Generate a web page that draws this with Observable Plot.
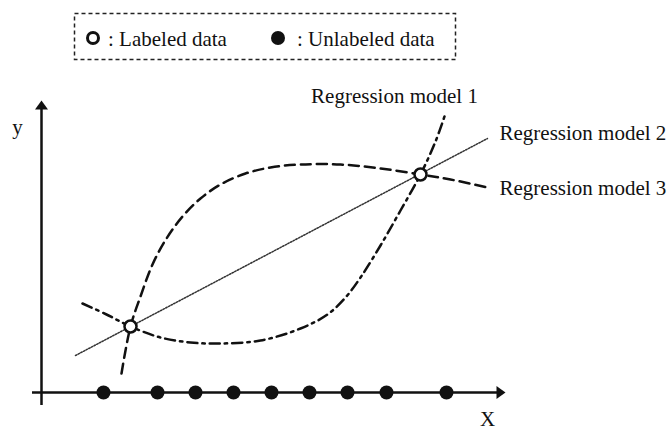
<!DOCTYPE html>
<html>
<head>
<meta charset="utf-8">
<script src="https://cdn.jsdelivr.net/npm/d3@7"></script>
<script src="https://cdn.jsdelivr.net/npm/@observablehq/plot@0.6"></script>
<style>
  html, body { margin: 0; padding: 0; background: #fff; }
  #wrap { width: 669px; height: 431px; position: relative; overflow: hidden; font-family: "Liberation Serif", "Times New Roman", serif; color: #111; }
  #legend { position: relative; width: 669px; height: 70px; }
  #legend .box { position: absolute; left: 0; top: 0; }
  #legend .sym { position: absolute; box-sizing: border-box; border-radius: 50%; }
  #legend .lbl { position: absolute; font-size: 21px; line-height: 24px; top: 27px; white-space: nowrap; }
  #chart svg { display: block; }
</style>
</head>
<body>
<div id="wrap">
  <div id="legend">
    <svg class="box" width="669" height="70"><rect x="74.5" y="13.5" width="381" height="46" fill="none" stroke="#222" stroke-width="1.5" stroke-dasharray="4,3"></rect></svg>
    <div class="sym" style="left:86px;top:31px;width:14px;height:14px;border:3px solid #111;background:#fff;"></div>
    <div class="lbl" id="lab1" style="left:108px;"></div>
    <div class="sym" style="left:271px;top:31px;width:14px;height:14px;background:#111;"></div>
    <div class="lbl" id="lab2" style="left:297px;"></div>
  </div>
  <div id="chart"></div>
</div>
<script>
// ---- data (schematic coordinates: origin at the axes crossing, y upward) ----
const legendLabels = [": Labeled data", ": Unlabeled data"];
const modelNames = ["Regression model 1", "Regression model 2", "Regression model 3"];

const labeledX = [89, 379];
const labeledY = [66, 218];

const unlabeledX = [62, 116, 154, 192, 230, 268, 306, 345, 405];

const model1X = [41, 65, 89, 119, 149, 179, 219, 259, 286, 304, 319, 339, 359, 379, 394, 404];
const model1Y = [89, 78, 66, 55, 50, 49, 52, 64, 78, 95, 115, 147, 182, 218, 251, 279];

const model2X = [34, 446];
const model2Y = [37, 254];

const model3X = [80, 89, 99, 111, 125, 141, 159, 179, 204, 229, 259, 299, 339, 379, 409, 446];
const model3Y = [19, 66, 96, 128, 154, 176, 194, 208, 219, 225, 228, 228, 224, 218, 213, 205];

const axisXExtent = [-9, 464];
const axisYExtent = [-13, 292];

const labelX = [353, 458, 458];
const labelY = [296, 259, 204];
const axisNames = ["y", "X"];
const axisNameX = [-24, 446];
const axisNameY = [265, -27];

// ---- build tables ----
const pts = (xs, ys) => xs.map((x, i) => ({x, y: ys[i]}));
const m1 = pts(model1X, model1Y);
const m2 = pts(model2X, model2Y);
const m3 = pts(model3X, model3Y);
const labeled = pts(labeledX, labeledY);
const unlabeled = unlabeledX.map(x => ({x, y: 0}));
const labels = modelNames.map((t, i) => ({t, x: labelX[i], y: labelY[i]}));
const axisLabels = axisNames.map((t, i) => ({t, x: axisNameX[i], y: axisNameY[i]}));
const arrowHeads = [
  {x: 0, y: axisYExtent[1], rot: 0},
  {x: axisXExtent[1], y: 0, rot: 90}
];

const arrowSymbol = {
  draw(ctx) {
    ctx.moveTo(0, 0);
    ctx.lineTo(-6.5, 9);
    ctx.lineTo(6.5, 9);
    ctx.closePath();
  }
};

document.getElementById("lab1").textContent = legendLabels[0];
document.getElementById("lab2").textContent = legendLabels[1];

const serif = "Liberation Serif, Times New Roman, serif";

const plot = Plot.plot({
  width: 669,
  height: 361,
  margin: 0,
  x: {domain: [-41, 628], range: [0, 669], axis: null},
  y: {domain: [-39, 322], range: [361, 0], axis: null},
  style: {background: "#fff"},
  marks: [
    Plot.line(m2, {x: "x", y: "y", stroke: "#333", strokeWidth: 1.5, strokeDasharray: "1.5,1.5"}),
    Plot.line(m3, {x: "x", y: "y", stroke: "#111", strokeWidth: 2.5, strokeDasharray: "10,6", curve: "catmull-rom"}),
    Plot.line(m1, {x: "x", y: "y", stroke: "#111", strokeWidth: 2.5, strokeDasharray: "10,5,2.5,5", curve: "catmull-rom"}),
    Plot.ruleY([0], {x1: axisXExtent[0], x2: axisXExtent[1] - 4, stroke: "#111", strokeWidth: 2.5}),
    Plot.ruleX([0], {y1: axisYExtent[0], y2: axisYExtent[1] - 4, stroke: "#111", strokeWidth: 2.5}),
    Plot.dot(arrowHeads, {x: "x", y: "y", symbol: arrowSymbol, rotate: "rot", fill: "#111", stroke: "none"}),
    Plot.dot(unlabeled, {x: "x", y: "y", r: 7, fill: "#111", stroke: "none"}),
    Plot.dot(labeled, {x: "x", y: "y", r: 6, fill: "#fff", stroke: "#111", strokeWidth: 2.5}),
    Plot.text(labels.slice(0, 1), {x: "x", y: "y", text: "t", textAnchor: "middle", fontSize: 21, fontFamily: serif, fill: "#111"}),
    Plot.text(labels.slice(1), {x: "x", y: "y", text: "t", textAnchor: "start", fontSize: 21, fontFamily: serif, fill: "#111"}),
    Plot.text(axisLabels, {x: "x", y: "y", text: "t", fontSize: 21, fontFamily: serif, fill: "#111"})
  ]
});
document.getElementById("chart").appendChild(plot);
</script>
</body>
</html>
